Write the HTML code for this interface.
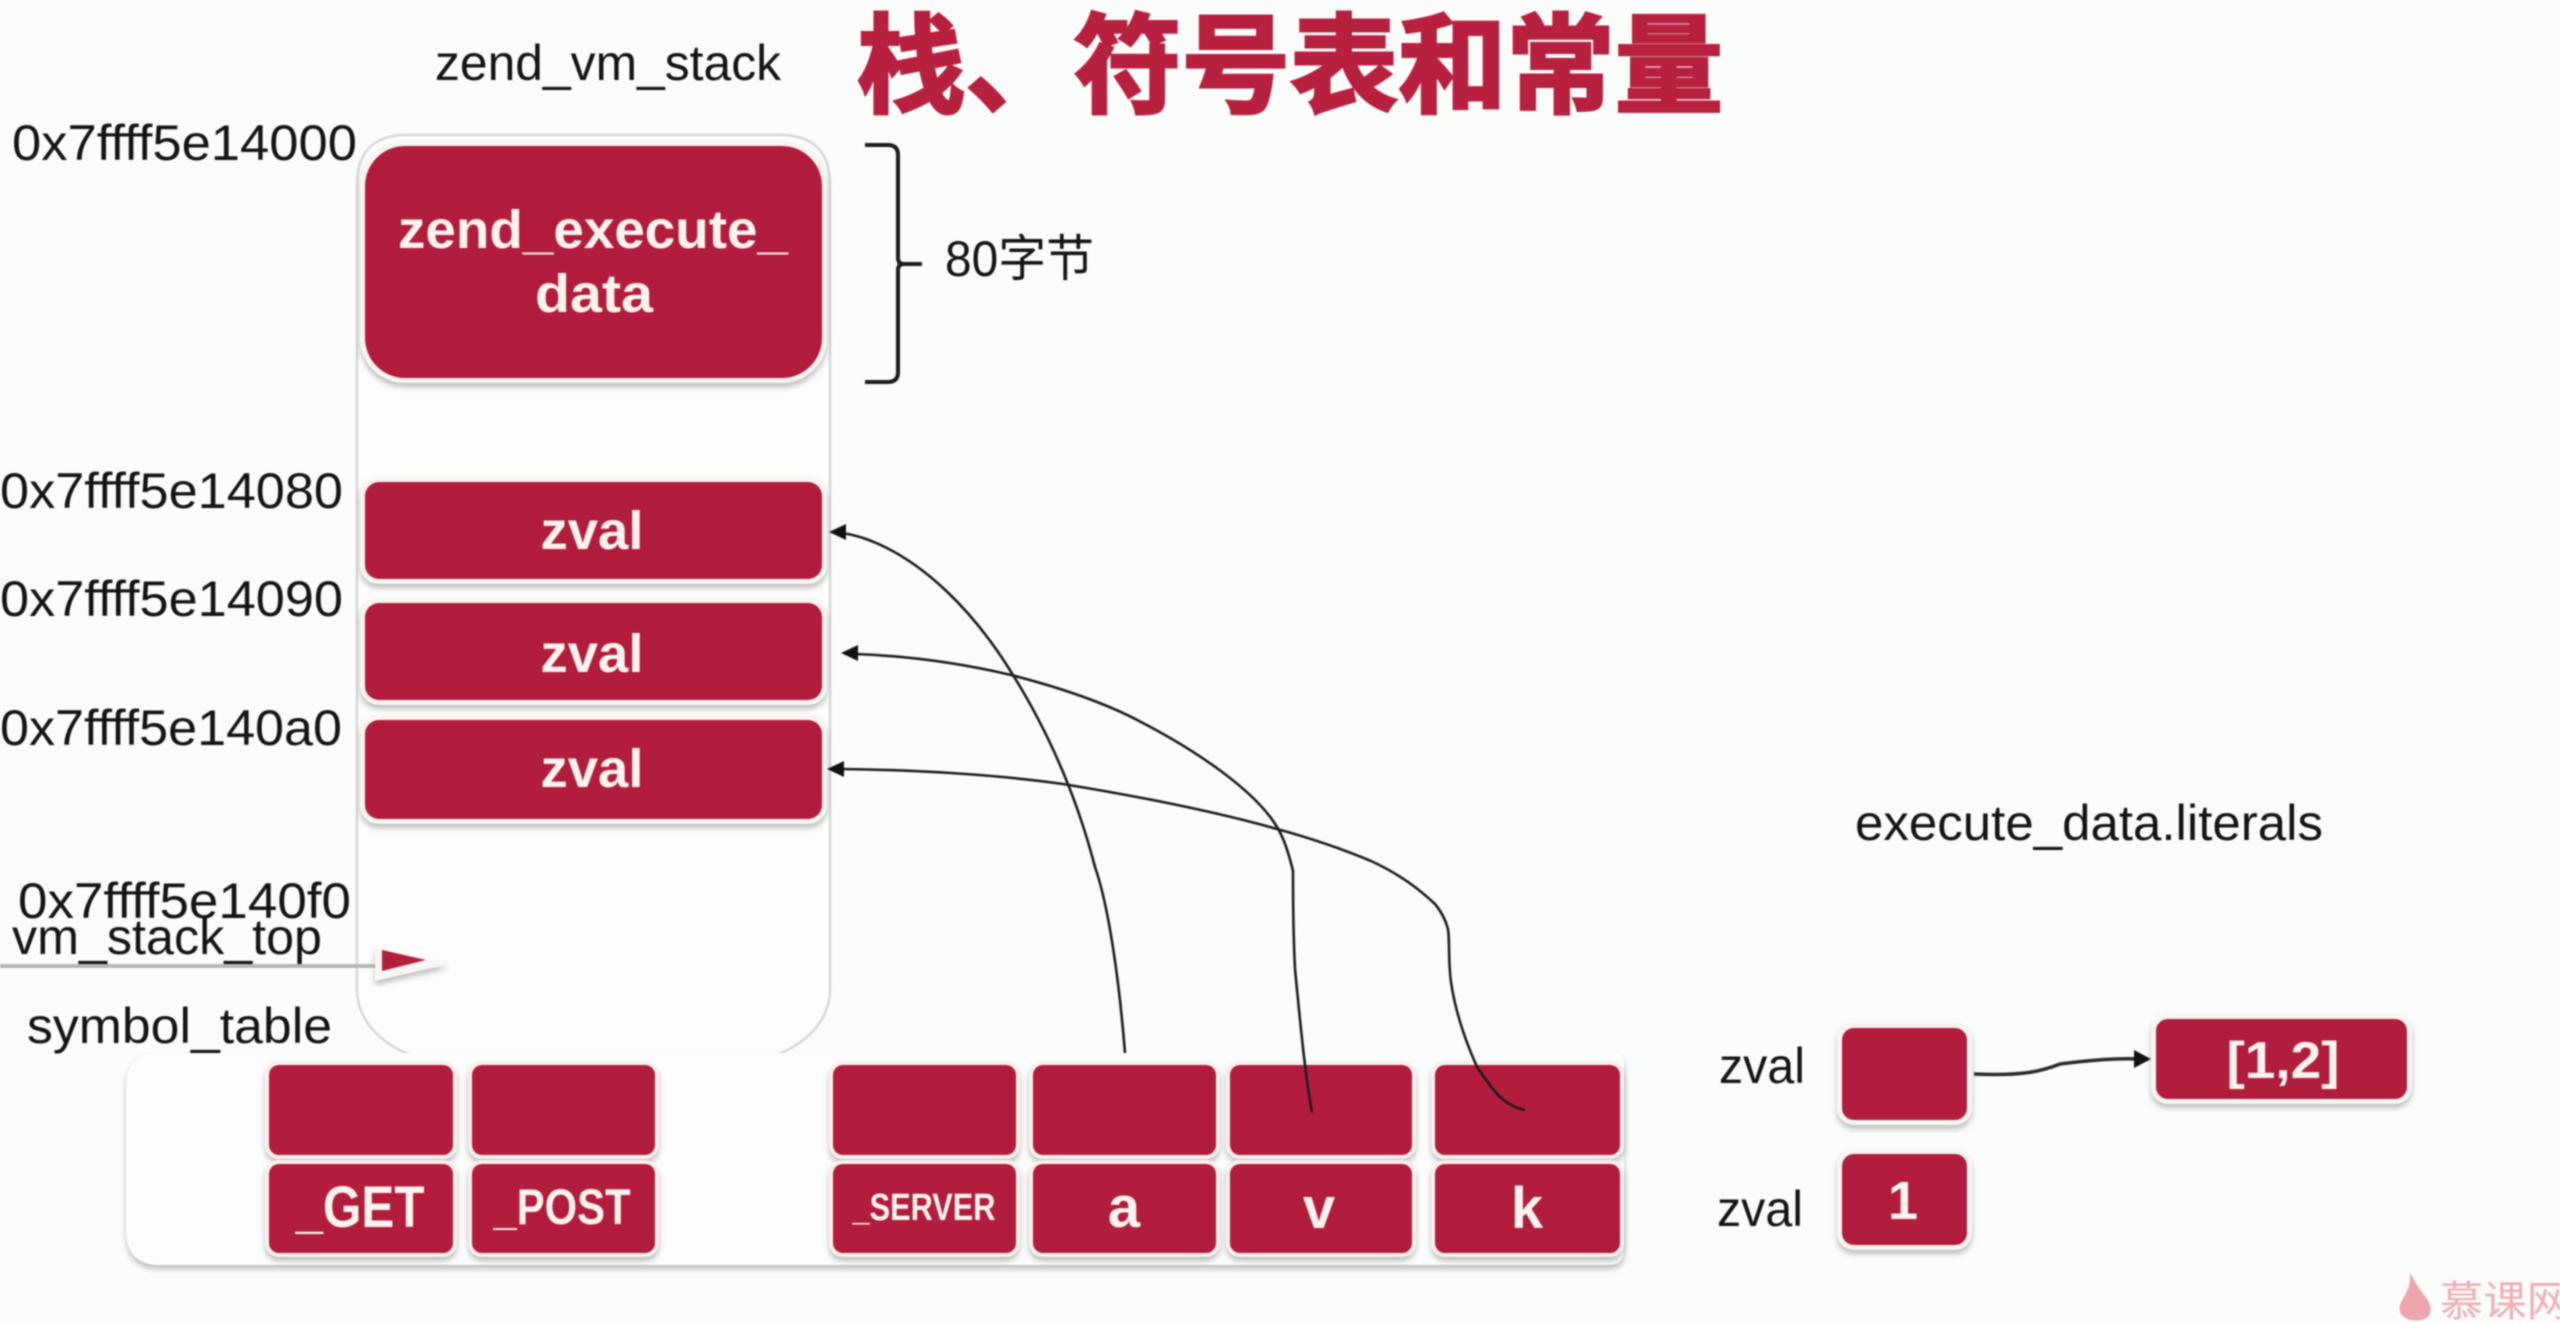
<!DOCTYPE html>
<html lang="zh">
<head>
<meta charset="utf-8">
<title>栈、符号表和常量</title>
<style>
html,body{margin:0;padding:0;background:#fbfdfb;width:2560px;height:1323px;overflow:hidden}
svg{display:block;filter:blur(.9px)}
text{font-family:"Liberation Sans","Noto Sans CJK SC",sans-serif}
.l{font-size:50px;fill:#141414}
.w{font-weight:bold;fill:#fbf3ee;text-anchor:middle}
.c{fill:none;stroke:#1c1c1c;stroke-width:2.6}
</style>
</head>
<body>
<svg width="2560" height="1323" viewBox="0 0 2560 1323" xmlns="http://www.w3.org/2000/svg">
<defs>
<filter id="s" x="-10%" y="-10%" width="120%" height="125%"><feDropShadow dx="0" dy="4" stdDeviation="3" flood-color="#888" flood-opacity=".55"/></filter>
</defs>

<!-- stack container -->
<path d="M407 135 H780 Q830 135 830 185 V990 A95 72 0 0 1 735 1062 H452 A95 72 0 0 1 357 990 V185 Q357 135 407 135Z" fill="#fcfdfc" stroke="#d5d8d5" stroke-width="2.5"/>

<!-- title -->
<text x="857" y="104" font-size="108" font-weight="bold" fill="#b7213f" stroke="#b7213f" stroke-width="3" textLength="866" lengthAdjust="spacingAndGlyphs" style="font-family:'Noto Sans CJK SC',sans-serif">栈、符号表和常量</text>

<!-- labels -->
<text class="l" x="435" y="80" textLength="346" lengthAdjust="spacingAndGlyphs">zend_vm_stack</text>
<text class="l" x="12" y="160" textLength="345" lengthAdjust="spacingAndGlyphs">0x7ffff5e14000</text>
<text class="l" x="0" y="508" textLength="343" lengthAdjust="spacingAndGlyphs">0x7ffff5e14080</text>
<text class="l" x="0" y="616" textLength="343" lengthAdjust="spacingAndGlyphs">0x7ffff5e14090</text>
<text class="l" x="0" y="745" textLength="342" lengthAdjust="spacingAndGlyphs">0x7ffff5e140a0</text>
<text class="l" x="18" y="918" textLength="333" lengthAdjust="spacingAndGlyphs">0x7ffff5e140f0</text>
<text class="l" x="12" y="954" textLength="310" lengthAdjust="spacingAndGlyphs">vm_stack_top</text>
<text class="l" x="27" y="1043" textLength="305" lengthAdjust="spacingAndGlyphs">symbol_table</text>
<text class="l" x="945" y="276" textLength="149" lengthAdjust="spacingAndGlyphs">80字节</text>
<text class="l" x="1855" y="840" textLength="468" lengthAdjust="spacingAndGlyphs">execute_data.literals</text>
<text class="l" x="1719" y="1083" textLength="86" lengthAdjust="spacingAndGlyphs">zval</text>
<text class="l" x="1717" y="1226" textLength="86" lengthAdjust="spacingAndGlyphs">zval</text>

<!-- brace -->
<path d="M865 145 H888 Q898 145 898 155 V258 Q898 264 904 264 H922 M904 264 Q898 264 898 270 V372 Q898 382 888 382 H865" fill="none" stroke="#1c1c1c" stroke-width="4"/>

<!-- stack boxes -->
<g fill="#b21e3c" stroke="#f8f4ef" stroke-width="10" paint-order="stroke" filter="url(#s)">
<rect x="365" y="146" width="457" height="232" rx="40"/>
<rect x="365" y="482" width="457" height="97" rx="14"/>
<rect x="365" y="603" width="457" height="97" rx="14"/>
<rect x="365" y="720" width="457" height="99" rx="14"/>
</g>
<text class="w" x="593" y="248" font-size="54" textLength="390" lengthAdjust="spacingAndGlyphs">zend_execute_</text>
<text class="w" x="594" y="312" font-size="54" textLength="118" lengthAdjust="spacingAndGlyphs">data</text>
<text class="w" x="592" y="549" font-size="54" textLength="103" lengthAdjust="spacingAndGlyphs">zval</text>
<text class="w" x="592" y="672" font-size="54" textLength="103" lengthAdjust="spacingAndGlyphs">zval</text>
<text class="w" x="592" y="787" font-size="54" textLength="103" lengthAdjust="spacingAndGlyphs">zval</text>

<!-- vm_stack_top arrow -->
<rect x="0" y="964" width="385" height="4" fill="#b5b8b5"/>
<path d="M375 947 L449 964 L375 981Z" fill="#f8f6f2" filter="url(#s)"/>
<path d="M382 950 L426 960 L382 971Z" fill="#b21e3c"/>

<!-- symbol table -->
<path d="M160 1053 H1614 Q1624 1053 1624 1063 V1250 Q1624 1265 1609 1265 H160 Q126 1265 126 1230 V1087 Q126 1053 160 1053Z" fill="#fcfdfc" filter="url(#s)"/>
<g fill="#b21e3c" stroke="#f8f0ea" stroke-width="8" paint-order="stroke" filter="url(#s)">
<rect x="269" y="1065" width="184" height="90" rx="10"/>
<rect x="472" y="1065" width="183" height="90" rx="10"/>
<rect x="833" y="1065" width="183" height="90" rx="10"/>
<rect x="1033" y="1065" width="183" height="90" rx="10"/>
<rect x="1230" y="1065" width="182" height="90" rx="10"/>
<rect x="1435" y="1065" width="185" height="90" rx="10"/>
<rect x="269" y="1164" width="184" height="89" rx="10"/>
<rect x="472" y="1164" width="183" height="89" rx="10"/>
<rect x="833" y="1164" width="183" height="89" rx="10"/>
<rect x="1033" y="1164" width="183" height="89" rx="10"/>
<rect x="1230" y="1164" width="182" height="89" rx="10"/>
<rect x="1435" y="1164" width="185" height="89" rx="10"/>
</g>
<text class="w" x="360" y="1227" font-size="58" textLength="129" lengthAdjust="spacingAndGlyphs">_GET</text>
<text class="w" x="562" y="1224" font-size="50" textLength="137" lengthAdjust="spacingAndGlyphs">_POST</text>
<text class="w" x="924" y="1220" font-size="38" textLength="143" lengthAdjust="spacingAndGlyphs">_SERVER</text>
<text class="w" x="1124" y="1227" font-size="58">a</text>
<text class="w" x="1319" y="1228" font-size="58">v</text>
<text class="w" x="1527" y="1228" font-size="58">k</text>

<!-- literals -->
<g fill="#b21e3c" stroke="#f8f4ef" stroke-width="10" paint-order="stroke" filter="url(#s)">
<rect x="1842" y="1028" width="125" height="92" rx="12"/>
<rect x="1842" y="1154" width="125" height="91" rx="12"/>
<rect x="2156" y="1019" width="251" height="80" rx="12"/>
</g>
<text class="w" x="2283" y="1078" font-size="52" textLength="113" lengthAdjust="spacingAndGlyphs">[1,2]</text>
<text class="w" x="1903" y="1219" font-size="54">1</text>

<!-- connectors -->
<path class="c" d="M1125 1053 C1120 990 1110 910 1095 867 C1075 790 1045 725 1008 667 C975 615 925 560 866 539 Q855 535 842 533"/>
<path class="c" d="M1312 1112 C1305 1075 1300 1020 1295 969 C1293 930 1293 900 1293 871 C1288 850 1282 835 1277 827 C1255 790 1195 750 1141 722 C1100 700 1050 685 1011 675 C960 663 910 656 855 654"/>
<path class="c" stroke-width="3" d="M1525 1110 C1500 1105 1490 1085 1477 1067 C1465 1040 1455 1010 1451 982 C1448 960 1450 945 1448 929 C1445 918 1440 910 1435 904 C1415 885 1395 872 1371 861 C1340 848 1310 838 1277 829 C1210 810 1130 795 1063 784 C1000 775 920 770 842 769"/>
<path d="M829 532 L846 524 L846 540Z M841 653 L858 645 L858 661Z M827 769 L844 761 L844 777Z" fill="#111"/>
<path d="M1974 1074 C2020 1076 2040 1072 2060 1064 C2090 1060 2120 1058 2140 1059" fill="none" stroke="#2a2a2a" stroke-width="3.5"/>
<path d="M2151 1059 L2134 1050 L2134 1068Z" fill="#111"/>

<!-- watermark -->
<path d="M2410 1272 C2418 1292 2434 1300 2430 1314 C2426 1323 2404 1323 2400 1312 C2397 1300 2412 1294 2410 1272Z" fill="#eda6ad"/>
<text x="2440" y="1316" font-size="42" fill="#eeb0b5" textLength="130" lengthAdjust="spacingAndGlyphs">慕课网</text>
</svg>
</body>
</html>
